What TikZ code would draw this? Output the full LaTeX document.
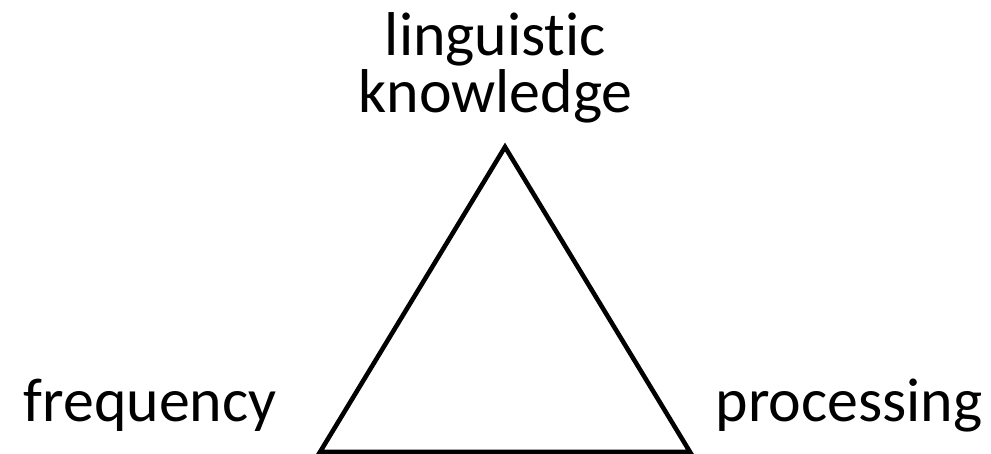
\documentclass[tikz,border=0pt]{standalone}
\usepackage{fontspec}
\setmainfont[Ligatures=NoCommon]{Carlito}
\usepackage{tikz}
\usetikzlibrary{positioning}

\begin{document}
\begin{tikzpicture}[every node/.style={inner sep=0pt, font=\fontsize{17.6pt}{16.2pt}\selectfont},
  cornerlabel/.style={anchor=base west}]

\useasboundingbox (0,0) rectangle (9.91,4.54);

%% ── triangle corners ─────────────────────────────────────────────
\coordinate (apex)  at (5.05,3.07);
\coordinate (left)  at (3.20,0.02);
\coordinate (right) at (6.90,0.02);

%% ── triangle ─────────────────────────────────────────────────────
\draw[line width=1.3pt, line join=miter] (apex) -- (right) -- (left) -- cycle;

%% ── labels ───────────────────────────────────────────────────────
\node[align=center, anchor=north] (know) at (4.955,4.42) {linguistic\\knowledge};
\node[cornerlabel] (freq) at (0.23,0.32) {frequency};
\node[cornerlabel] (proc) at (7.15,0.32) {processing};

\end{tikzpicture}
\end{document}
